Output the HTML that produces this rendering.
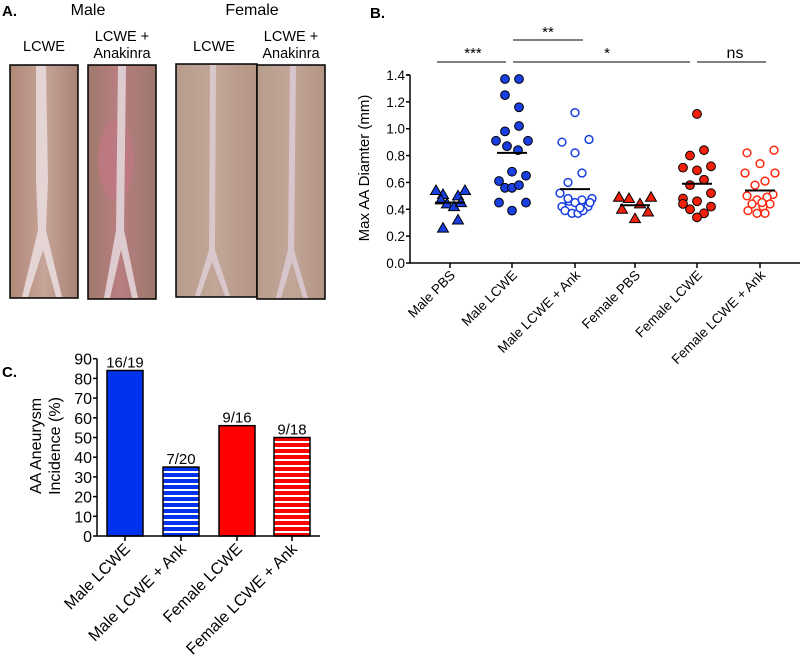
<!DOCTYPE html>
<html><head><meta charset="utf-8"><style>
html,body{margin:0;padding:0;background:#fff;width:800px;height:665px;overflow:hidden}
svg{display:block;font-family:"Liberation Sans",Arial,sans-serif}
</style></head><body>
<svg id="fig" width="800" height="665" viewBox="0 0 800 665">
<defs>
<linearGradient id="g1" x1="0" y1="0" x2="1" y2="0"><stop offset="0" stop-color="#b08878"/><stop offset=".5" stop-color="#c6a498"/><stop offset="1" stop-color="#a88478"/></linearGradient>
<linearGradient id="g2" x1="0" y1="0" x2="1" y2="0"><stop offset="0" stop-color="#a07a6c"/><stop offset=".45" stop-color="#b87e80"/><stop offset="1" stop-color="#9c786c"/></linearGradient>
<linearGradient id="g3" x1="0" y1="0" x2="1" y2="0"><stop offset="0" stop-color="#b89c8c"/><stop offset=".5" stop-color="#c2a698"/><stop offset="1" stop-color="#b49484"/></linearGradient>
<pattern id="stripeBlue" width="6" height="6" patternUnits="userSpaceOnUse"><rect width="6" height="6" fill="#0033ee"/><rect y="3" width="6" height="2" fill="#fff"/></pattern>
<pattern id="stripeRed" width="6" height="6" patternUnits="userSpaceOnUse"><rect width="6" height="6" fill="#ff0000"/><rect y="3" width="6" height="2" fill="#fff"/></pattern>
</defs>

<g>
<text x="2" y="16" font-size="15" font-weight="bold">A.</text>
<text x="88" y="15" font-size="16" text-anchor="middle">Male</text>
<text x="252" y="15" font-size="16" text-anchor="middle">Female</text>
<text x="44" y="51" font-size="14.5" text-anchor="middle">LCWE</text>
<text x="122" y="41" font-size="14.5" text-anchor="middle"><tspan x="122">LCWE +</tspan><tspan x="122" dy="17">Anakinra</tspan></text>
<text x="214" y="51" font-size="14.5" text-anchor="middle">LCWE</text>
<text x="291" y="41" font-size="14.5" text-anchor="middle"><tspan x="291">LCWE +</tspan><tspan x="291" dy="17">Anakinra</tspan></text>
<g>
<rect x="10" y="65" width="68" height="233" fill="url(#g1)" stroke="#000" stroke-width="1.5"/>
<path d="M36,66 L46,66 L48,180 L46,230 L62,297 L56,297 L43,250 L28,297 L22,297 L38,230 L36,180 Z" fill="#e4d4d4"/>
</g>
<g>
<rect x="88" y="65" width="68" height="234" fill="url(#g2)" stroke="#000" stroke-width="1.5"/>
<ellipse cx="116" cy="160" rx="18" ry="40" fill="#c07882" opacity=".7"/>
<path d="M118,66 L126,66 L124,230 L138,298 L132,298 L121,250 L110,298 L104,298 L116,230 Z" fill="#ddcbd0"/>
</g>
<g>
<rect x="176" y="64" width="81" height="233" fill="url(#g3)" stroke="#000" stroke-width="1.5"/>
<path d="M210,65 L216,65 L215,250 L230,296 L225,296 L212,262 L200,296 L195,296 L209,250 Z" fill="#d8c8cc"/>
</g>
<g>
<rect x="257" y="65" width="68" height="234" fill="url(#g3)" stroke="#000" stroke-width="1.5"/>
<path d="M290,66 L296,66 L294,250 L308,298 L303,298 L292,262 L281,298 L276,298 L288,250 Z" fill="#d6c6cc"/>
</g>
</g>

<g id="panelB">
<text x="370" y="18" font-size="15" font-weight="bold">B.</text>
<text transform="translate(369,168) rotate(-90)" font-size="15" text-anchor="middle">Max AA Diamter (mm)</text>
<g>
<line x1="437" y1="62" x2="506" y2="62" stroke="#555" stroke-width="1.5"/>
<text x="473" y="58" font-size="15" text-anchor="middle">***</text>
<line x1="513" y1="40" x2="583" y2="40" stroke="#555" stroke-width="1.5"/>
<text x="548" y="37" font-size="15" text-anchor="middle">**</text>
<line x1="513" y1="62" x2="690" y2="62" stroke="#555" stroke-width="1.5"/>
<text x="607" y="58" font-size="15" text-anchor="middle">*</text>
<line x1="697" y1="62" x2="766" y2="62" stroke="#555" stroke-width="1.5"/>
<text x="735" y="58" font-size="16" text-anchor="middle">ns</text>
</g>
</g>

<g id="panelC">
<text x="2" y="377" font-size="15" font-weight="bold">C.</text>
<text transform="translate(41,446) rotate(-90)" font-size="16" text-anchor="middle"><tspan x="0" dy="0">AA Aneurysm</tspan><tspan x="0" dy="19">Incidence (%)</tspan></text>
</g>
</svg>
<script>
// ---- Panel B data ----
const groupsB = ["Male PBS","Male LCWE","Male LCWE + Ank","Female PBS","Female LCWE","Female LCWE + Ank"];
const ticksB = [0.0,0.2,0.4,0.6,0.8,1.0,1.2,1.4];
const malePbsVals = [0.54,0.51,0.47,0.44,0.42,0.50,0.45,0.54,0.32,0.26];
const maleLcweVals = [1.37,1.37,1.25,1.16,1.02,0.98,0.91,0.91,0.87,0.84,0.68,0.65,0.61,0.56,0.56,0.58,0.45,0.45,0.39];
const maleAnkVals = [1.12,0.90,0.92,0.82,0.67,0.60,0.52,0.46,0.47,0.48,0.42,0.42,0.39,0.37,0.37,0.39,0.48,0.45,0.45,0.41];
const femalePbsVals = [0.49,0.48,0.49,0.44,0.40,0.38,0.33];
const femaleLcweVals = [1.11,0.80,0.84,0.71,0.69,0.72,0.62,0.58,0.52,0.48,0.46,0.44,0.42,0.40,0.37,0.34];
const femaleAnkVals = [0.82,0.84,0.74,0.67,0.67,0.61,0.58,0.50,0.51,0.47,0.49,0.44,0.44,0.39,0.42,0.37,0.37,0.45];
const meansB = [0.45,0.82,0.55,0.43,0.59,0.54];
// ---- Panel C data ----
const groupsC = ["Male LCWE","Male LCWE + Ank","Female LCWE","Female LCWE + Ank"];
const incidence = [84,35,56,50];
const fractions = ["16/19","7/20","9/16","9/18"];
const ticksC = [0,10,20,30,40,50,60,70,80,90];

const NS="http://www.w3.org/2000/svg";
function mk(tag, attrs, parent){const e=document.createElementNS(NS,tag);for(const k in attrs)e.setAttribute(k,attrs[k]);parent.appendChild(e);return e;}

const bx0=410, bx1=800, by0=263, by1=75, bmax=1.4;
const centersB=[450,512,575,635,697,760];
function yB(v){return by0-(v/bmax)*(by0-by1);}
function xB(i){return centersB[i];}
const pB=document.getElementById('panelB');
const axB=mk('path',{d:`M${bx0},${by1} H${bx0-4} M${bx0},${by1} V${by0} H${bx1}`,stroke:'#000','stroke-width':1.5,fill:'none'},pB);


ticksB.forEach(t=>{
  const l=mk('line',{x1:bx0-4,x2:bx0,y1:yB(t),y2:yB(t),stroke:'#000','stroke-width':1.5},pB);
  
  
  const tx=mk('text',{x:bx0-5,y:yB(t)+5,'font-size':13.5,'text-anchor':'end'},pB);
  tx.textContent=t.toFixed(1);
  
  
});
groupsB.forEach((g,i)=>{
  const l=mk('line',{x1:xB(i),x2:xB(i),y1:by0,y2:by0+5,stroke:'#000','stroke-width':1.5},pB);
  
  
  const tx=mk('text',{transform:`translate(${xB(i)+6},${by0+13}) rotate(-45)`,'font-size':13.5,'text-anchor':'end'},pB);
  tx.textContent=g;
  
  
});
const jit=[
 [-14,-7,-9,-3,4,8,11,15,8,-7],
 [-7,7,-7,7,7,-7,-16,16,-5,6,0,14,-13,-7,0,7,-13,14,0],
 [0,-13,14,0,7,-7,-15,-6,7,17,-13,13,-10,-3,3,8,-7,0,15,5],
 [-16,-6,16,5,-13,13,0],
 [0,-7,7,-14,0,14,7,-7,14,-14,0,-14,14,-7,7,0],
 [-13,14,0,-15,15,5,-5,-13,13,-3,7,-8,10,-12,3,-3,5,2]];
const valsB=[malePbsVals,maleLcweVals,maleAnkVals,femalePbsVals,femaleLcweVals,femaleAnkVals];
const colB=['#1a3fe0','#1a3fe0','#1a3fe0','#f0200a','#f0200a','#f0200a'];
valsB.forEach((arr,i)=>{
  arr.forEach((v,k)=>{
    const cx=xB(i)+(jit[i][k]||0), cy=yB(v);
    let e;
    if(i===0||i===3){
      e=mk('path',{d:`M${cx},${cy-5.5} L${cx+5.5},${cy+4} L${cx-5.5},${cy+4} Z`,fill:colB[i],stroke:'#000','stroke-width':1},pB);
    }else if(i===1||i===4){
      e=mk('circle',{cx:cx,cy:cy,r:4.4,fill:colB[i],stroke:'#000','stroke-width':1},pB);
    }else{
      e=mk('circle',{cx:cx,cy:cy,r:3.9,fill:'#fff',stroke:i===2?'#1a3fe0':'#ff2a10','stroke-width':1.5},pB);
    }
    
    
  });
  const m=mk('line',{x1:xB(i)-15,x2:xB(i)+15,y1:yB(meansB[i]),y2:yB(meansB[i]),stroke:'#000','stroke-width':2},pB);
  
  
});

const cx0=97, cx1=320, cy0=536, cyPer=1.97;
const centersC=[125,181,237,292], bw=36;
function yC(v){return cy0-v*cyPer;}
const pC=document.getElementById('panelC');
const fills=['#0033ee','url(#stripeBlue)','#ff0000','url(#stripeRed)'];
incidence.forEach((v,i)=>{
  const r=mk('rect',{x:centersC[i]-bw/2,y:yC(v),width:bw,height:cy0-yC(v),fill:fills[i],stroke:'#000','stroke-width':1.5},pC);
  
  
  const t=mk('text',{x:centersC[i],y:yC(v)-3,'font-size':15,'text-anchor':'middle'},pC);
  t.textContent=fractions[i];
  
  
  const l=mk('line',{x1:centersC[i],x2:centersC[i],y1:cy0,y2:cy0+5,stroke:'#000','stroke-width':1.5},pC);
  
  
  const tx=mk('text',{transform:`translate(${centersC[i]+6},${cy0+14}) rotate(-45)`,'font-size':16,'text-anchor':'end'},pC);
  tx.textContent=groupsC[i];
  
  
});
const axC=mk('path',{d:`M${cx0},${yC(90)} V${cy0} H${cx1}`,stroke:'#000','stroke-width':1.5,fill:'none'},pC);


ticksC.forEach(t=>{
  const l=mk('line',{x1:cx0-4,x2:cx0,y1:yC(t),y2:yC(t),stroke:'#000','stroke-width':1.5},pC);
  
  
  const tx=mk('text',{x:cx0-5,y:yC(t)+6,'font-size':16,'text-anchor':'end'},pC);
  tx.textContent=t;
  
  
});
</script>
</body></html>
